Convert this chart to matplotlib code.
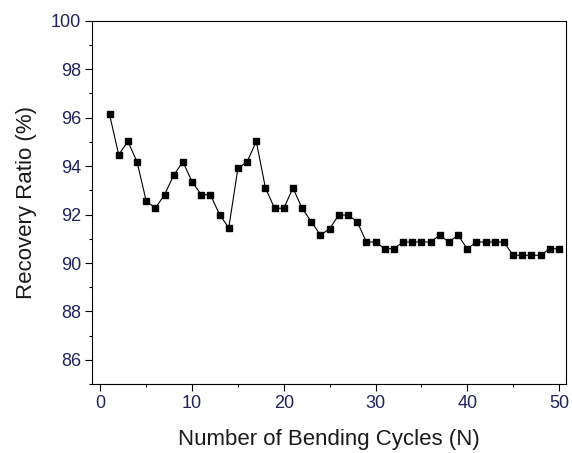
import matplotlib
matplotlib.use("Agg")
import matplotlib.pyplot as plt
from matplotlib.ticker import MultipleLocator

cycles = list(range(1, 51))
recovery = [96.14, 94.47, 95.02, 94.18, 92.56, 92.27, 92.82, 93.63, 94.18, 93.36,
            92.82, 92.82, 92.00, 91.45, 93.91, 94.18, 95.02, 93.10, 92.26, 92.26,
            93.10, 92.26, 91.71, 91.15, 91.42, 91.98, 91.98, 91.71, 90.87, 90.87,
            90.59, 90.59, 90.87, 90.87, 90.87, 90.87, 91.15, 90.87, 91.15, 90.59,
            90.87, 90.87, 90.87, 90.87, 90.32, 90.32, 90.32, 90.32, 90.59, 90.59]

xticks = [0, 10, 20, 30, 40, 50]
yticks = [86, 88, 90, 92, 94, 96, 98, 100]

plt.rcParams['font.family'] = ['Liberation Sans', 'DejaVu Sans']

fig = plt.figure(figsize=(5.72, 4.53), dpi=100)
ax = fig.add_axes([0.161, 0.152, 0.829, 0.802])

ax.plot(cycles, recovery, color='black', linewidth=0.8, marker='s',
        markersize=5, markerfacecolor='black', markeredgecolor='black')

ax.set_xlim(-0.9, 50.8)
ax.set_ylim(85, 100)
ax.set_xticks(xticks)
ax.set_yticks(yticks)
ax.xaxis.set_minor_locator(MultipleLocator(5))
ax.yaxis.set_minor_locator(MultipleLocator(1))
ax.tick_params(which='major', direction='out', length=5, width=0.8,
               labelsize=13, labelcolor='#22225a', pad=3)
ax.tick_params(which='minor', direction='out', length=2.5, width=0.8)
ax.tick_params(top=False, right=False)
for s in ax.spines.values():
    s.set_linewidth(0.8)

ax.set_xlabel('Number of Bending Cycles (N)', fontsize=16, color='#1a1a1a', labelpad=12)
ax.set_ylabel('Recovery Ratio (%)', fontsize=16, color='#1a1a1a', labelpad=10)

fig.savefig('out.png', dpi=100)
